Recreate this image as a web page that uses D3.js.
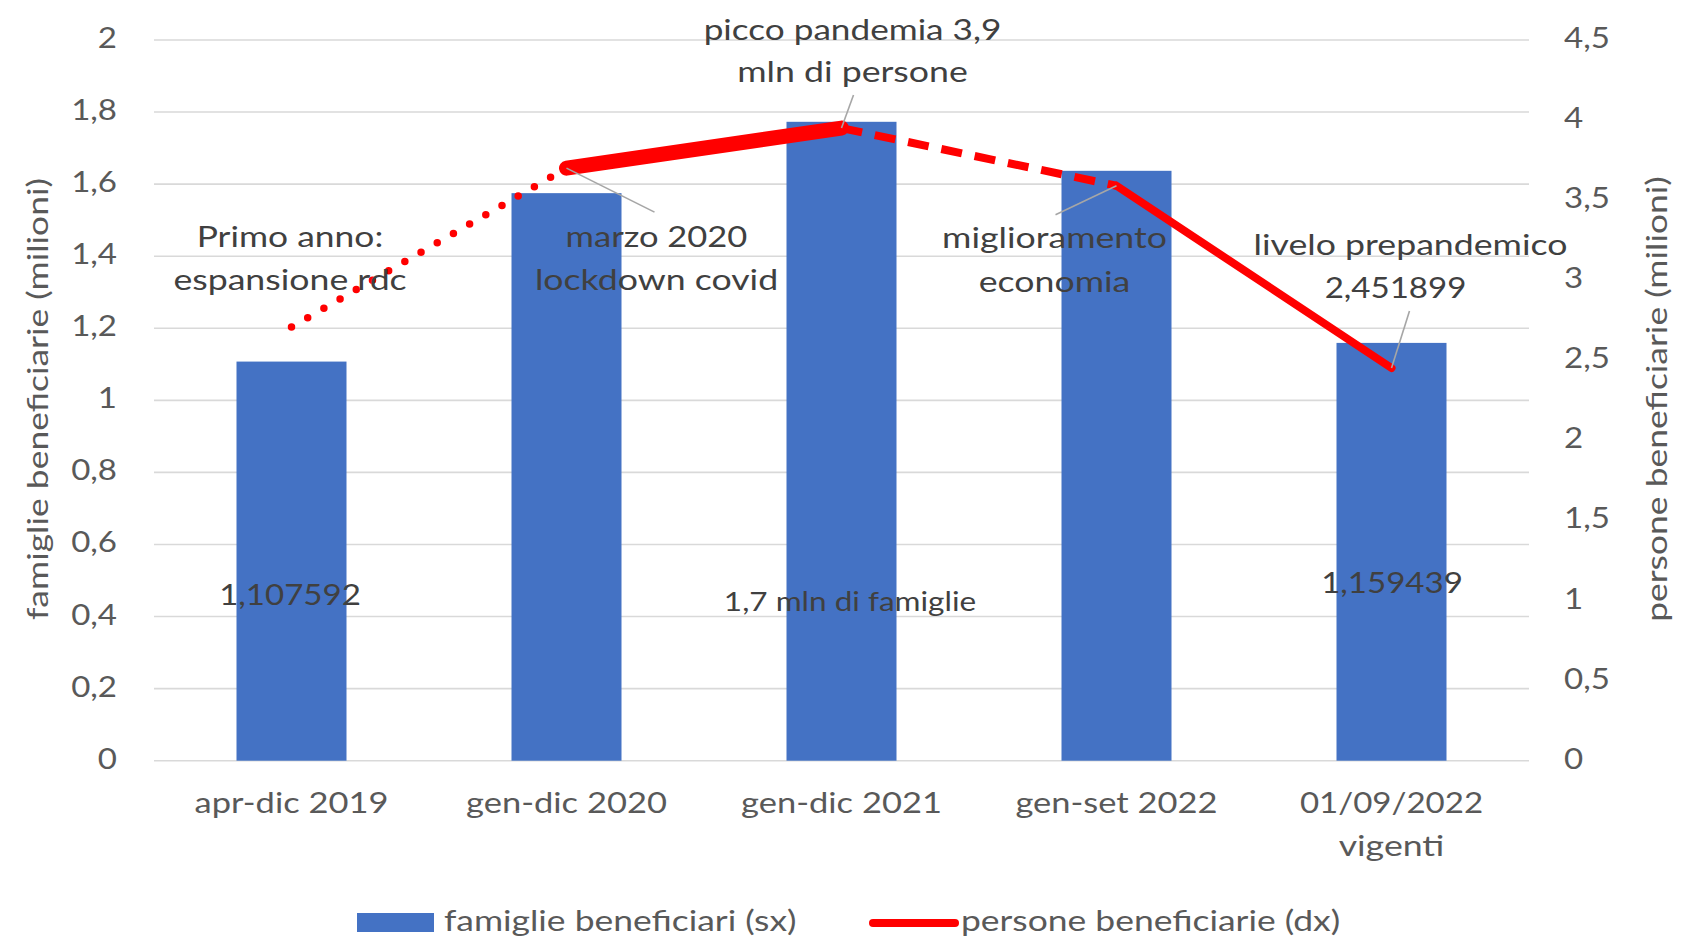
<!DOCTYPE html>
<html><head><meta charset="utf-8">
<script src="https://cdn.jsdelivr.net/npm/d3@7"></script>
<style>
html,body{margin:0;padding:0;background:#fff;}
svg{display:block;}
text{font-family:Lato,"Open Sans",sans-serif;}
</style></head>
<body>
<svg id="chart" width="1686" height="936"></svg>
<script>
// ---------- data ----------
const categories = ["apr-dic 2019", "gen-dic 2020", "gen-dic 2021", "gen-set 2022", "01/09/2022\nvigenti"];
const famiglie = [1.107592, 1.575, 1.773, 1.637, 1.159439];   // milioni, asse sx
const persone  = [2.708, 3.70, 3.95, 3.59, 2.451899];          // milioni, asse dx
const leftTicks  = [0, 0.2, 0.4, 0.6, 0.8, 1, 1.2, 1.4, 1.6, 1.8, 2];
const rightTicks = [0, 0.5, 1, 1.5, 2, 2.5, 3, 3.5, 4, 4.5];
const seriesNames = ["famiglie beneficiari (sx)", "persone beneficiarie (dx)"];
const leftTitle = "famiglie beneficiarie (milioni)";
const rightTitle = "persone beneficiarie (milioni)";
const barLabels = [
  {i: 0, text: "1,107592"},
  {i: 2, text: "1,7 mln di famiglie"},
  {i: 4, text: "1,159439"}
];
const annotations = [
  {i: 0, lines: ["Primo anno:", "espansione rdc"]},
  {i: 1, lines: ["marzo 2020", "lockdown covid"]},
  {i: 2, lines: ["picco pandemia 3,9", "mln di persone"]},
  {i: 3, lines: ["miglioramento", "economia"]},
  {i: 4, lines: ["livelo prepandemico", "2,451899"]}
];

// ---------- layout / style ----------
const FS = 29;
const M = {left: 154, right: 1529, top: 40, bottom: 760.7};
const segStyles = [
  {w: 7.5, dash: "0 18.7", cap: "round"},
  {w: 15,  dash: null,     cap: "round"},
  {w: 8,   dash: "21 13",  cap: "butt"},
  {w: 8,   dash: null,     cap: "round"}
];
const annLayout = [
  {dx: [-1.5, -1.5], y: [247, 290], leader: null},
  {dx: [90, 90],     y: [247, 290], leader: [88, 44]},
  {dx: [11, 11],     y: [40, 82],   leader: [12, -33]},
  {dx: [-62, -62],   y: [248, 292], leader: [-61, 29]},
  {dx: [19, 4],      y: [255, 298], leader: [18, -57]}
];
const barLabelLayout = [{dx: -1.5, y: 605, fs: 29}, {dx: 8.5, y: 611, fs: 26}, {dx: 0.5, y: 593, fs: 29}];

const svg = d3.select("#chart");
const x = d3.scaleBand().domain(categories).range([M.left, M.right]).paddingInner(0.6).paddingOuter(0.3);
const yL = d3.scaleLinear().domain([0, 2]).range([M.bottom, M.top]);
const yR = d3.scaleLinear().domain([0, 4.5]).range([M.bottom, M.top]);
const cx = c => x(c) + x.bandwidth() / 2;

// horizontal stretch to mimic the wider Calibri-like glyphs of the original
function stretch(s) {
  const letters = (s.match(/[A-Za-z]/g) || []).length;
  const other = (s.match(/[^A-Za-z\s]/g) || []).length;
  const frac = letters / Math.max(1, letters + other);
  return 1.14 + 0.09 * frac;
}
function txt(g, px, py, s, anchor, fill, rot, fs) {
  return g.append("text")
    .attr("transform", `translate(${px},${py})` + (rot ? ` rotate(${rot})` : "") + ` scale(${stretch(s)},1)`)
    .attr("text-anchor", anchor || "middle")
    .attr("font-size", fs || FS)
    .attr("fill", fill || "#595959")
    .text(s);
}

// gridlines
svg.append("g").selectAll("line").data(leftTicks).join("line")
  .attr("x1", M.left).attr("x2", M.right)
  .attr("y1", d => yL(d)).attr("y2", d => yL(d))
  .attr("stroke", "#d9d9d9").attr("stroke-width", 1.6);

// left axis
const gL = svg.append("g");
leftTicks.forEach(t => txt(gL, 117, yL(t) + 8, String(t).replace(".", ","), "end"));
// right axis
const gR = svg.append("g");
rightTicks.forEach(t => txt(gR, 1564, yR(t) + 8, String(t).replace(".", ","), "start"));
// axis titles
txt(svg, 48, 399, leftTitle, "middle", "#595959", -90);
txt(svg, 1667, 399, rightTitle, "middle", "#595959", -90);

// category labels
const gX = svg.append("g");
categories.forEach(c => {
  c.split("\n").forEach((line, k) => txt(gX, cx(c), 813 + k * 43, line, "middle"));
});

// bars
svg.append("g").selectAll("rect").data(famiglie).join("rect")
  .attr("x", (d, i) => x(categories[i]))
  .attr("width", x.bandwidth())
  .attr("y", d => yL(d))
  .attr("height", d => yL(0) - yL(d))
  .attr("fill", "#4472c4");

// line segments
const pts = persone.map((v, i) => [cx(categories[i]), yR(v)]);
const lineGen = d3.line();
const gLine = svg.append("g");
for (let i = 0; i < pts.length - 1; i++) {
  const st = segStyles[i];
  const p = gLine.append("path").attr("d", lineGen([pts[i], pts[i + 1]]))
    .attr("fill", "none").attr("stroke", "#ff0000")
    .attr("stroke-width", st.w).attr("stroke-linecap", st.cap).attr("stroke-linejoin", "round");
  if (st.dash) p.attr("stroke-dasharray", st.dash);
}

// bar labels
const gBL = svg.append("g");
barLabels.forEach((b, k) => {
  const L = barLabelLayout[k];
  txt(gBL, cx(categories[b.i]) + L.dx, L.y, b.text, "middle", "#404040", null, L.fs);
});

// annotations
const gA = svg.append("g");
annotations.forEach((a, k) => {
  const L = annLayout[k];
  const c = cx(categories[a.i]);
  a.lines.forEach((line, j) => txt(gA, c + L.dx[j], L.y[j], line, "middle", "#404040"));
  if (L.leader) {
    const p = pts[a.i];
    gA.append("line").attr("x1", p[0]).attr("y1", p[1])
      .attr("x2", p[0] + L.leader[0]).attr("y2", p[1] + L.leader[1])
      .attr("stroke", "#a6a6a6").attr("stroke-width", 1.6);
  }
});

// legend
const gLeg = svg.append("g");
gLeg.append("rect").attr("x", 357).attr("y", 913).attr("width", 77).attr("height", 19).attr("fill", "#4472c4");
txt(gLeg, 444, 931, seriesNames[0], "start");
gLeg.append("line").attr("x1", 873).attr("x2", 955).attr("y1", 923).attr("y2", 923)
  .attr("stroke", "#ff0000").attr("stroke-width", 8).attr("stroke-linecap", "round");
txt(gLeg, 961, 931, seriesNames[1], "start");
</script>
</body></html>
